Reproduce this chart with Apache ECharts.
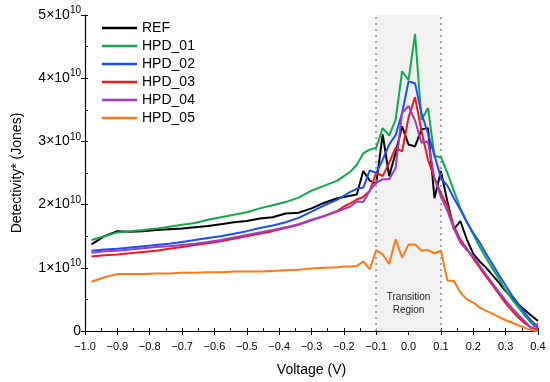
<!DOCTYPE html>
<html>
<head>
<meta charset="utf-8">
<script src="https://cdn.jsdelivr.net/npm/echarts@6/dist/echarts.min.js"></script>
<style>
html,body{margin:0;padding:0;background:#fff;}
#chart{width:550px;height:382px;}
</style>
</head>
<body>
<div id="chart"></div>
<script>
// Voltage (V)
const voltage = [-0.98,-0.94,-0.90,-0.86,-0.82,-0.78,-0.74,-0.70,-0.66,-0.62,-0.58,-0.54,-0.50,-0.46,-0.42,-0.38,-0.34,-0.30,-0.26,-0.22,
  -0.20,-0.18,-0.16,-0.14,-0.12,-0.10,-0.08,-0.06,-0.04,-0.02,0.00,0.02,0.04,0.06,0.08,0.10,0.12,0.14,0.16,0.18,0.20,0.22,0.24,0.26,0.28,0.30,0.32,0.34,0.36,0.38,0.40];

// Detectivity, in units of 1e10 Jones
const REF = [1.37,1.50,1.58,1.57,1.58,1.60,1.61,1.62,1.64,1.66,1.69,1.72,1.74,1.78,1.80,1.86,1.87,1.94,2.03,2.10,
  2.12,2.14,2.16,2.53,2.38,2.33,3.11,2.45,2.82,3.24,2.95,2.92,3.19,3.21,2.10,2.53,2.05,1.61,1.74,1.45,1.22,1.10,1.00,0.88,0.76,0.63,0.52,0.42,0.33,0.24,0.16];
const HPD_01 = [1.44,1.50,1.56,1.58,1.60,1.62,1.65,1.68,1.71,1.76,1.80,1.84,1.88,1.94,1.99,2.04,2.11,2.22,2.30,2.38,
  2.45,2.52,2.63,2.81,2.87,2.90,3.21,3.09,3.34,4.11,3.97,4.70,3.34,3.53,2.77,2.75,2.50,2.22,1.94,1.73,1.53,1.33,1.15,0.98,0.82,0.65,0.50,0.37,0.24,0.12,0.04];
const HPD_02 = [1.27,1.29,1.30,1.32,1.34,1.36,1.38,1.41,1.44,1.47,1.50,1.54,1.58,1.63,1.67,1.72,1.79,1.89,1.99,2.08,
  2.14,2.20,2.25,2.27,2.54,2.50,2.71,2.95,3.10,3.45,3.95,3.92,3.45,3.12,2.78,2.42,2.30,2.10,1.92,1.72,1.55,1.40,1.22,1.05,0.88,0.72,0.56,0.42,0.28,0.16,0.06];
const HPD_03 = [1.18,1.20,1.21,1.23,1.25,1.27,1.30,1.33,1.36,1.39,1.42,1.46,1.50,1.54,1.58,1.63,1.68,1.75,1.82,1.90,
  1.97,2.02,2.08,2.12,2.22,2.50,2.45,2.66,2.90,2.84,3.38,3.70,3.16,2.71,2.42,2.18,1.98,1.66,1.45,1.30,1.15,1.00,0.86,0.72,0.58,0.44,0.32,0.21,0.12,0.05,0.02];
const HPD_04 = [1.24,1.26,1.27,1.29,1.31,1.33,1.34,1.36,1.38,1.41,1.44,1.48,1.52,1.56,1.60,1.64,1.69,1.76,1.82,1.89,
  1.93,1.97,2.05,2.04,2.22,2.35,2.40,2.40,2.58,3.45,3.56,3.33,2.98,3.00,2.42,2.12,1.90,1.62,1.40,1.28,1.18,1.03,0.89,0.75,0.61,0.48,0.36,0.25,0.15,0.04,0.12];
const HPD_05 = [0.78,0.85,0.90,0.90,0.90,0.91,0.91,0.92,0.92,0.93,0.93,0.94,0.94,0.94,0.95,0.96,0.97,0.99,1.00,1.01,
  1.02,1.02,1.03,1.10,0.98,1.28,1.21,1.06,1.45,1.16,1.37,1.37,1.27,1.28,1.23,1.27,0.80,0.79,0.61,0.50,0.45,0.37,0.32,0.27,0.22,0.17,0.13,0.09,0.05,0.01,0.00];

const seriesNames = ['REF','HPD_01','HPD_02','HPD_03','HPD_04','HPD_05'];
const seriesValues = [REF, HPD_01, HPD_02, HPD_03, HPD_04, HPD_05];
const colors = ['#000000','#14a84e','#1c4dff','#f01820','#a03cc0','#ff7a14'];
const transition = [-0.1, 0.1];

const FONT = '"Liberation Sans", Arial, Helvetica, sans-serif';
const chart = echarts.init(document.getElementById('chart'), null, {renderer:'canvas'});

const series = seriesNames.map((name, i) => ({
  name: name,
  type: 'line',
  xAxisIndex: 0,
  yAxisIndex: 0,
  symbol: 'none',
  smooth: false,
  lineStyle: {width: 2, color: colors[i]},
  itemStyle: {color: colors[i]},
  z: 3 + i,
  data: voltage.map((v, k) => [v, seriesValues[i][k]])
}));
series[0].markArea = {
  silent: true,
  itemStyle: {color: '#f2f2f2'},
  label: {show: true, position: 'insideBottom', distance: 14, formatter: 'Transition\nRegion',
    fontFamily: FONT, fontSize: 10, lineHeight: 13, color: '#222'},
  data: [[{xAxis: transition[0]}, {xAxis: transition[1]}]]
};
series[0].markLine = {
  silent: true, symbol: 'none',
  lineStyle: {type: [2, 4], color: '#8a8a8a', width: 1.5},
  label: {show: false},
  data: [{xAxis: transition[0]}, {xAxis: transition[1]}]
};

const xFmt = v => (v < 0 ? '\u2212' : '') + Math.abs(v).toFixed(1);
const yFmt = v => v === 0 ? '{a|0}' : '{a|' + v + '\u00d710}{s|10}';

chart.setOption({
  animation: false,
  backgroundColor: '#fff',
  textStyle: {fontFamily: FONT},
  grid: {left: 85, right: 12, top: 15, bottom: 50, containLabel: false},
  legend: {
    orient: 'vertical', left: 97, top: 16, itemWidth: 35, itemHeight: 2.5, itemGap: 4,
    icon: 'rect',
    textStyle: {fontFamily: FONT, fontSize: 14, lineHeight: 14, color: '#000'},
    data: seriesNames
  },
  xAxis: [{
    type: 'value', min: -1, max: 0.4, interval: 0.1, position: 'bottom',
    name: 'Voltage (V)', nameLocation: 'middle', nameGap: 32,
    nameTextStyle: {fontFamily: FONT, fontSize: 14, color: '#000'},
    axisLine: {onZero: false, lineStyle: {color: '#000', width: 1.2}},
    axisTick: {inside: false, length: 4, lineStyle: {color: '#000'}},
    axisLabel: {formatter: xFmt, fontFamily: FONT, fontSize: 11, color: '#000', margin: 10},
    splitLine: {show: false}
  }, {
    type: 'value', min: -1, max: 0.4, interval: 0.1, position: 'bottom',
    axisLine: {show: false, onZero: false},
    axisTick: {inside: true, length: 3, lineStyle: {color: '#000'}},
    minorTick: {show: true, splitNumber: 2, length: 3, lineStyle: {color: '#000'}},
    axisLabel: {show: false}, splitLine: {show: false}
  }],
  yAxis: [{
    type: 'value', min: 0, max: 5, interval: 1, position: 'left',
    name: 'Detectivity* (Jones)', nameLocation: 'middle', nameGap: 61,
    nameTextStyle: {fontFamily: FONT, fontSize: 14, color: '#000'},
    axisLine: {show: true, onZero: false, lineStyle: {color: '#000', width: 1.2}},
    axisTick: {show: true, inside: false, length: 4, lineStyle: {color: '#000'}},
    axisLabel: {formatter: yFmt, margin: 4, rich: {
      a: {fontFamily: FONT, fontSize: 14, color: '#000'},
      s: {fontFamily: FONT, fontSize: 10, color: '#000', padding: [0, 0, 9, 0]}
    }},
    splitLine: {show: false}
  }, {
    type: 'value', min: 0, max: 5, interval: 1, position: 'left',
    axisLine: {show: false, onZero: false},
    axisTick: {show: true, inside: true, length: 3, lineStyle: {color: '#000'}},
    minorTick: {show: true, splitNumber: 2, length: 3, lineStyle: {color: '#000'}},
    axisLabel: {show: false}, splitLine: {show: false}
  }],
  series: series
});
</script>
</body>
</html>
